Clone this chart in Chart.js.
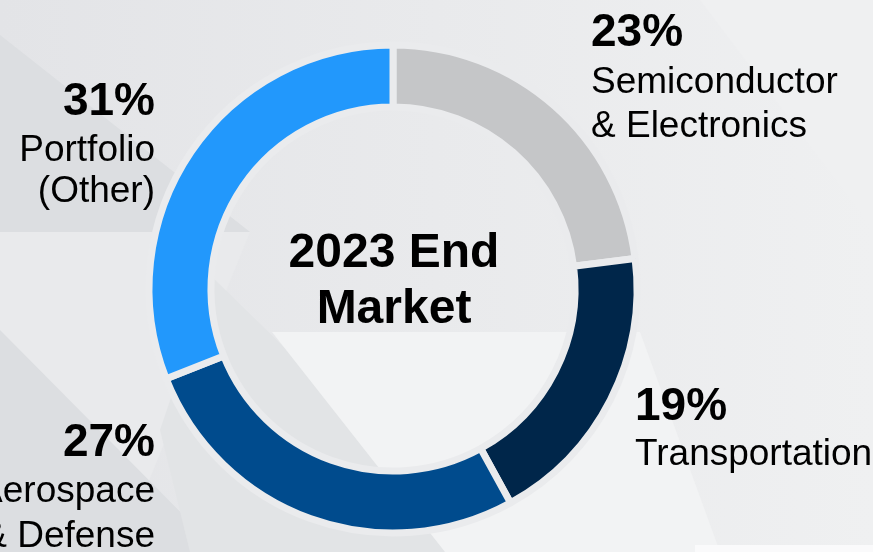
<!DOCTYPE html>
<html>
<head>
<meta charset="utf-8">
<title>2023 End Market</title>
<script src="https://cdn.jsdelivr.net/npm/chart.js@4.4.1/dist/chart.umd.min.js"></script>
<style>
  html, body { margin: 0; padding: 0; background: #e8e9eb; overflow: hidden; }
  #wrap { position: relative; width: 873px; height: 552px; }
  #market { display: block; }
</style>
</head>
<body>
<div id="wrap"><canvas id="market" width="873" height="552"></canvas></div>
<script>
// end market split, clockwise from 12 o'clock
const segments = ["Semiconductor & Electronics", "Transportation", "Aerospace & Defense", "Portfolio (Other)"];
const shares = [23, 19, 27, 31];
const labelLines = [
  ["Semiconductor", "& Electronics"],
  ["Transportation"],
  ["Aerospace", "& Defense"],
  ["Portfolio", "(Other)"],
];
const centerTitle = ["2023 End", "Market"];

const sliceColors = ["#c5c6c8", "#00264a", "#004b8d", "#2298fc"];

// where each label block sits: x, align, baselines (percent line first)
const labelSpots = [
  { x: 591, align: "left",  lines: [46, 93, 137] },
  { x: 635, align: "left",  lines: [420, 465] },
  { x: 155, align: "right", lines: [456, 502, 547] },
  { x: 155, align: "right", lines: [115, 161, 202] },
];

const FONT = "'Liberation Sans', Arial, sans-serif";

// soft slanted panels behind the chart
const backdrop = {
  id: "backdrop",
  beforeDraw(chart) {
    const ctx = chart.ctx;
    const w = chart.width, h = chart.height;
    ctx.save();
    const g = ctx.createLinearGradient(0, 0, w, 0);
    g.addColorStop(0, "#e3e4e7");
    g.addColorStop(1, "#eff0f1");
    ctx.fillStyle = g;
    ctx.fillRect(0, 0, w, h);

    const poly = (pts, fill) => {
      ctx.beginPath();
      ctx.moveTo(pts[0][0], pts[0][1]);
      for (let i = 1; i < pts.length; i++) ctx.lineTo(pts[i][0], pts[i][1]);
      ctx.closePath();
      ctx.fillStyle = fill;
      ctx.fill();
    };
    poly([[0, 35], [250, 232], [0, 232]], "#dcdee1");
    poly([[0, 232], [250, 232], [120, 552], [0, 552]], "#e9eaec");
    poly([[0, 330], [220, 552], [0, 552]], "#dcdee1");
    poly([[212, 277], [420, 480], [460, 552], [190, 552], [160, 430]], "#e2e4e6");
    poly([[272, 332], [640, 332], [720, 552], [445, 552]], "#f2f3f4");
    poly([[700, 0], [873, 0], [873, 230]], "#eff0f1");
    poly([[695, 545], [873, 545], [873, 552], [695, 552]], "#fafafb");
    ctx.restore();
  }
};

// percentages, names and the centre title
const textLayer = {
  id: "textLayer",
  afterDraw(chart) {
    const ctx = chart.ctx;
    const data = chart.data.datasets[0].data;
    const total = data.reduce((a, b) => a + b, 0);
    ctx.save();
    ctx.fillStyle = "#000";
    ctx.textBaseline = "alphabetic";
    labelSpots.forEach((spot, i) => {
      ctx.textAlign = spot.align;
      ctx.font = "bold 46px " + FONT;
      ctx.fillText(Math.round(data[i] / total * 100) + "%", spot.x, spot.lines[0]);
      ctx.font = "37px " + FONT;
      labelLines[i].forEach((txt, j) => ctx.fillText(txt, spot.x, spot.lines[j + 1]));
    });

    const arc = chart.getDatasetMeta(0).data[0];
    ctx.textAlign = "center";
    ctx.font = "bold 48px " + FONT;
    ctx.fillText(centerTitle[0], arc.x + 1, 267);
    ctx.fillText(centerTitle[1], arc.x + 1, 323);
    ctx.restore();
  }
};

new Chart(document.getElementById("market"), {
  type: "doughnut",
  data: {
    labels: segments,
    datasets: [{
      data: shares,
      backgroundColor: sliceColors,
      borderColor: "#eaebed",
      borderWidth: 7,
      hoverOffset: 0,
    }],
  },
  options: {
    responsive: false,
    animation: false,
    radius: 244,
    cutout: "74.6%",
    rotation: 0,
    layout: { padding: { left: 0, right: 87, top: 26, bottom: 0 } },
    plugins: {
      legend: { display: false },
      tooltip: { enabled: false },
    },
  },
  plugins: [backdrop, textLayer],
});
</script>
</body>
</html>
